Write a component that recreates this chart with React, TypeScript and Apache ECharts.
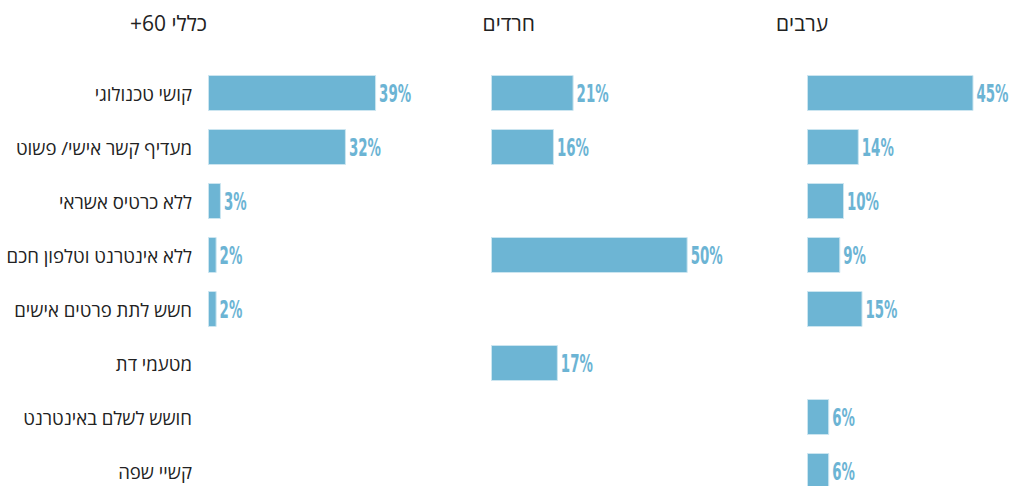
import React, { useEffect, useRef } from "react";
import * as echarts from "echarts";

const categories = [
  "קושי טכנולוגי",
  "מעדיף קשר אישי/ פשוט",
  "ללא כרטיס אשראי",
  "ללא אינטרנט וטלפון חכם",
  "חשש לתת פרטים אישים",
  "מטעמי דת",
  "חושש לשלם באינטרנט",
  "קשיי שפה",
];

const groupTitles = ["כללי 60+\u200F", "חרדים", "ערבים"];

const general60 = [39, 32, 3, 2, 2, null, null, null];
const haredim = [21, 16, null, 50, null, 17, null, null];
const arabs = [45, 14, 10, 9, 15, null, 6, 6];

const seriesData = [general60, haredim, arabs];

const BAR = "#6db5d4";
const LABEL = "#6cb4d4";
const TEXT = "#222222";
const HEB_FONT = "'Open Sans', 'Liberation Sans', 'DejaVu Sans', sans-serif";
const NUM_FONT = "'DejaVu Sans Condensed', 'DejaVu Sans', sans-serif";

export default function App() {
  const ref = useRef<HTMLDivElement>(null);

  useEffect(() => {
    document.body.style.margin = "0";
    if (!ref.current) return;
    const chart = echarts.init(ref.current, null, { renderer: "svg" });

    const grids = [
      { left: 208, top: 66, width: 215.5, height: 432, outerBoundsMode: "none" },
      { left: 491, top: 66, width: 236, height: 432, outerBoundsMode: "none" },
      { left: 807, top: 66, width: 185, height: 432, outerBoundsMode: "none" },
    ];
    const maxes = [50, 60, 50];
    const titleRights = [803, 475, 182];

    const barSeries = seriesData.map((d, i) => ({
      type: "bar",
      xAxisIndex: i,
      yAxisIndex: i,
      data: d.map((v) => (v === null ? "-" : v)),
      barWidth: 36,
      itemStyle: {
        color: BAR,
        borderColor: "#cbe5f0",
        borderWidth: 1,
      },
    }));

    const labelSeries = seriesData.map((d, i) => ({
      type: "custom",
      xAxisIndex: i,
      yAxisIndex: i,
      data: d
        .map((v, idx) => (v === null ? null : [v, idx]))
        .filter((x) => x !== null),
      renderItem: (_params: any, api: any) => {
        const v = api.value(0);
        const idx = api.value(1);
        const pt = api.coord([v, idx]);
        return {
          type: "text",
          x: pt[0] + 3,
          y: pt[1] + 1,
          scaleX: 0.62,
          style: {
            text: v + "%",
            fontFamily: NUM_FONT,
            fontWeight: "bold",
            fontSize: 24,
            fill: LABEL,
            align: "left",
            verticalAlign: "middle",
          },
        };
      },
    }));

    chart.setOption({
      animation: false,
      backgroundColor: "#ffffff",
      title: groupTitles.map((t, i) => ({
        text: t,
        right: titleRights[i],
        top: 12,
        padding: 0,
        textStyle: {
          fontFamily: HEB_FONT,
          fontSize: 21,
          fontWeight: "normal",
          color: TEXT,
        },
      })),
      grid: grids,
      xAxis: grids.map((_, i) => ({
        type: "value",
        gridIndex: i,
        min: 0,
        max: maxes[i],
        show: false,
      })),
      yAxis: grids.map((_, i) => ({
        type: "category",
        gridIndex: i,
        data: categories,
        inverse: true,
        axisLine: { show: false },
        axisTick: { show: false },
        splitLine: { show: false },
        axisLabel: {
          show: i === 0,
          margin: 16,
          fontFamily: HEB_FONT,
          fontSize: 18.6,
          color: TEXT,
        },
      })),
      series: [...barSeries, ...labelSeries],
    });

    return () => chart.dispose();
  }, []);

  return <div ref={ref} style={{ width: 1010, height: 486 }} />;
}
